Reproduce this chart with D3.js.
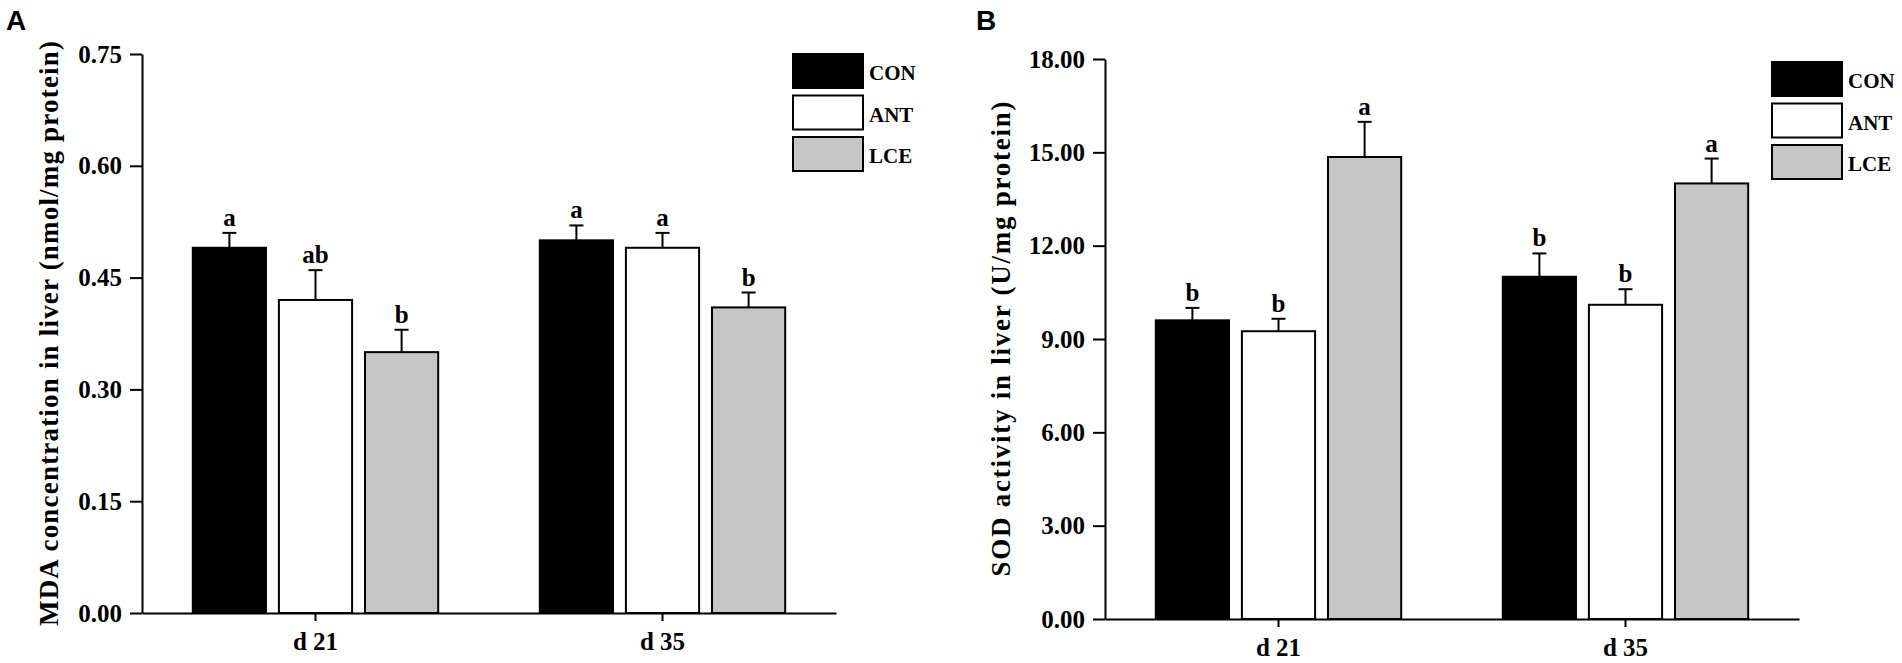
<!DOCTYPE html>
<html>
<head>
<meta charset="utf-8">
<script src="https://d3js.org/d3.v7.min.js"></script>
<style>
    body { margin: 0; background: #ffffff; }
    svg text { font-family: "Liberation Serif", "Times New Roman", serif; font-weight: bold; fill: #000; }
</style>
</head>
<body>
<div id="chart"></div>
<script>
// groups on the x axis and the three treatments
var groups = ["d 21", "d 35"];
var series = ["CON", "ANT", "LCE"];
var seriesFill = ["#000000", "#ffffff", "#c6c6c6"];

// panel A: MDA (nmol/mg protein), rows = groups, cols = series
var mdaMean = [[0.49, 0.42, 0.35], [0.50, 0.49, 0.41]];
var mdaErr = [[0.02, 0.04, 0.03], [0.02, 0.02, 0.02]];
var mdaLetters = [["a", "ab", "b"], ["a", "a", "b"]];
var mdaTicks = [0, 0.15, 0.30, 0.45, 0.60, 0.75];

// panel B: SOD (U/mg protein)
var sodMean = [[9.6, 9.25, 14.85], [11.0, 10.1, 14.0]];
var sodErr = [[0.4, 0.4, 1.13], [0.75, 0.5, 0.8]];
var sodLetters = [["b", "b", "a"], ["b", "b", "a"]];
var sodTicks = [0, 3, 6, 9, 12, 15, 18];

var svg = d3.select("#chart").append("svg")
    .attr("width", 1902)
    .attr("height", 663)
    .style("background-color", "white");

function drawPanel(p) {
    var g = svg.append("g").attr("transform", "translate(" + p.left + "," + p.top + ")");
    var h = p.bottom - p.top;

    var x0 = d3.scaleBand().domain(groups).range([0, p.width]);
    var x1 = d3.scaleBand().domain(series).range([0, x0.bandwidth()])
        .paddingInner(0.15).paddingOuter(0.59);
    var y = d3.scaleLinear().domain([p.ticks[0], p.ticks[p.ticks.length - 1]]).range([h, 0]);

    var rows = [];
    groups.forEach(function(grp, i) {
        series.forEach(function(s, j) {
            rows.push({ group: grp, series: s, fill: seriesFill[j],
                        mean: p.mean[i][j], err: p.err[i][j], letter: p.letters[i][j] });
        });
    });

    // bars
    g.append("g").attr("class", "bars")
        .selectAll("rect")
        .data(rows)
        .enter()
        .append("rect")
        .attr("x", function(d) { return x0(d.group) + x1(d.series); })
        .attr("y", function(d) { return y(d.mean); })
        .attr("width", x1.bandwidth())
        .attr("height", function(d) { return h - y(d.mean); })
        .attr("fill", function(d) { return d.fill; })
        .attr("stroke", "#000")
        .attr("stroke-width", 2);

    // upper error bars
    var eb = g.append("g").attr("class", "errors")
        .selectAll("g")
        .data(rows)
        .enter()
        .append("g")
        .attr("transform", function(d) {
            return "translate(" + (x0(d.group) + x1(d.series) + x1.bandwidth() / 2) + ",0)";
        });

    eb.append("line")
        .attr("x1", 0).attr("x2", 0)
        .attr("y1", function(d) { return y(d.mean); })
        .attr("y2", function(d) { return y(d.mean + d.err); })
        .attr("stroke", "#000").attr("stroke-width", 2);

    eb.append("line")
        .attr("x1", -7).attr("x2", 7)
        .attr("y1", function(d) { return y(d.mean + d.err); })
        .attr("y2", function(d) { return y(d.mean + d.err); })
        .attr("stroke", "#000").attr("stroke-width", 2);

    eb.append("text")
        .attr("text-anchor", "middle")
        .style("font-size", "25px")
        .attr("y", function(d) { return y(d.mean + d.err) - 7; })
        .text(function(d) { return d.letter; });

    // axes
    var yAxis = g.append("g")
        .call(d3.axisLeft(y).tickValues(p.ticks).tickFormat(d3.format(p.fmt))
            .tickSize(12).tickSizeOuter(0).tickPadding(8));
    yAxis.selectAll("text").style("font-size", "25px");

    var xAxis = g.append("g")
        .attr("transform", "translate(0," + h + ")")
        .call(d3.axisBottom(x0).tickSize(8).tickSizeOuter(0).tickPadding(11));
    xAxis.selectAll("text").style("font-size", "25px");

    svg.selectAll(".domain, .tick line").attr("stroke", "#000").attr("stroke-width", 2);

    // y title, stretched to the length it has in the figure
    g.append("text")
        .attr("transform", "translate(" + p.titleX + "," + (h / 2) + ") rotate(-90)")
        .attr("text-anchor", "middle")
        .attr("textLength", p.titleLen)
        .attr("lengthAdjust", "spacing")
        .style("font-size", "27px")
        .text(p.title);

    // panel letter
    svg.append("text")
        .attr("x", p.letterX)
        .attr("y", 30)
        .style("font-family", "'Liberation Sans', Arial, sans-serif")
        .style("font-size", "28px")
        .text(p.letter);

    // legend
    var leg = svg.append("g")
        .attr("transform", "translate(" + p.legX + "," + p.legY + ")")
        .selectAll("g")
        .data(series)
        .enter()
        .append("g")
        .attr("transform", function(d, i) { return "translate(0," + (i * 41.5) + ")"; });

    leg.append("rect")
        .attr("width", 70).attr("height", 34)
        .attr("fill", function(d, i) { return seriesFill[i]; })
        .attr("stroke", "#000").attr("stroke-width", 2);

    leg.append("text")
        .attr("x", 76).attr("y", 26)
        .style("font-size", "21px")
        .text(function(d) { return d; });
}

drawPanel({
    left: 142, top: 54, bottom: 613, width: 694,
    mean: mdaMean, err: mdaErr, letters: mdaLetters, ticks: mdaTicks, fmt: ".2f",
    title: "MDA concentration in liver (nmol/mg protein)", titleX: -84, titleLen: 585,
    letter: "A", letterX: 6, legX: 793, legY: 54
});

drawPanel({
    left: 1105, top: 59, bottom: 619, width: 694,
    mean: sodMean, err: sodErr, letters: sodLetters, ticks: sodTicks, fmt: ".2f",
    title: "SOD activity in liver (U/mg protein)", titleX: -95, titleLen: 475,
    letter: "B", letterX: 976, legX: 1772, legY: 62
});
</script>
</body>
</html>
